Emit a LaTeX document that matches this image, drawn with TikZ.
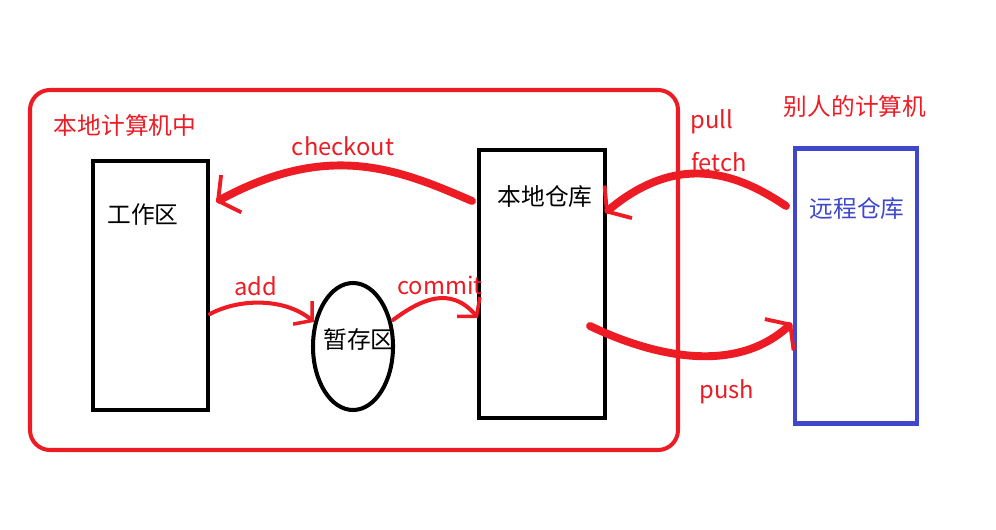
\documentclass[tikz,border=0pt]{standalone}
\usepackage{fontspec}
\setmainfont{Noto Sans CJK SC}
\usetikzlibrary{arrows.meta,shapes.geometric}
\definecolor{pred}{HTML}{ED1C24}
\definecolor{pblue}{HTML}{3F48CC}
\tikzset{
  box/.style={draw=black, line width=2.3pt, inner sep=0pt},
  lbl/.style={font=\fontsize{13.5pt}{15pt}\selectfont, inner sep=0pt},
  redlbl/.style={lbl, text=pred},
  bigarrow/.style={draw=pred, line width=4.5pt, line cap=round,
    -{Straight Barb[length=0.3cm, width=0.85cm, line width=2.2pt]}},
  smallarrow/.style={draw=pred, line width=2.3pt, line cap=round,
    -{Straight Barb[length=0.25cm, width=0.6cm, line width=2pt]}},
}
\begin{document}
\begin{tikzpicture}[x=0.02cm, y=-0.02cm]
\useasboundingbox (0,0) rectangle (996,530);
% local computer frame
\node[draw=pred, line width=2.3pt, rounded corners=0.4cm, minimum width=648*0.02cm, minimum height=360*0.02cm, inner sep=0pt] (local) at (354,270) {};
\node[redlbl] (localtxt) at (125,125) {本地计算机中};
% work area
\node[box, minimum width=115*0.02cm, minimum height=249*0.02cm] (work) at (150.5,285.5) {};
\node[lbl] (worktxt) at (143,215) {工作区};
% staging
\node[box, ellipse, minimum width=80*0.02cm, minimum height=127*0.02cm] (stage) at (353,346.5) {};
\node[lbl] (stagetxt) at (359,339) {暂存区};
% local repo
\node[box, minimum width=126*0.02cm, minimum height=268*0.02cm] (repo) at (542,284) {};
\node[lbl] (repotxt) at (545,197) {本地仓库};
% remote
\node[draw=pblue, line width=2.3pt, inner sep=0pt, minimum width=122*0.02cm, minimum height=275*0.02cm] (remote) at (856,286) {};
\node[lbl, text=pblue] (remotetxt) at (857,209) {远程仓库};
\node[redlbl] (othertxt) at (855,106) {别人的计算机};
% labels
\node[redlbl] (pull) at (712,122) {pull};
\node[redlbl] (fetch) at (719,162) {fetch};
\node[redlbl] (push) at (727,392) {push};
\node[redlbl] (checkout) at (343,146) {checkout};
\node[redlbl] (add) at (256,286) {add};
\node[redlbl] (commit) at (440,285) {commit};
% connector endpoints
\coordinate (coS) at (472,201);
\coordinate (coE) at (216,202);
\coordinate (feS) at (786,206);
\coordinate (feE) at (605,213);
\coordinate (puS) at (590,326);
\coordinate (puE) at (792,323);
\coordinate (adS) at (210,314);
\coordinate (adE) at (314,322);
\coordinate (cmS) at (393,320);
\coordinate (cmE) at (478,318);
% arrows
\draw[bigarrow] (coS) .. controls (400,170) and (330,140) .. (coE);
\draw[bigarrow] (feS) .. controls (740,175) and (680,150) .. (feE);
\draw[bigarrow] (puS) .. controls (640,350) and (730,380) .. (puE);
\draw[smallarrow] (adS) .. controls (240,298) and (285,298) .. (adE);
\draw[smallarrow] (cmS) .. controls (420,300) and (450,285) .. (cmE);
\end{tikzpicture}
\end{document}
